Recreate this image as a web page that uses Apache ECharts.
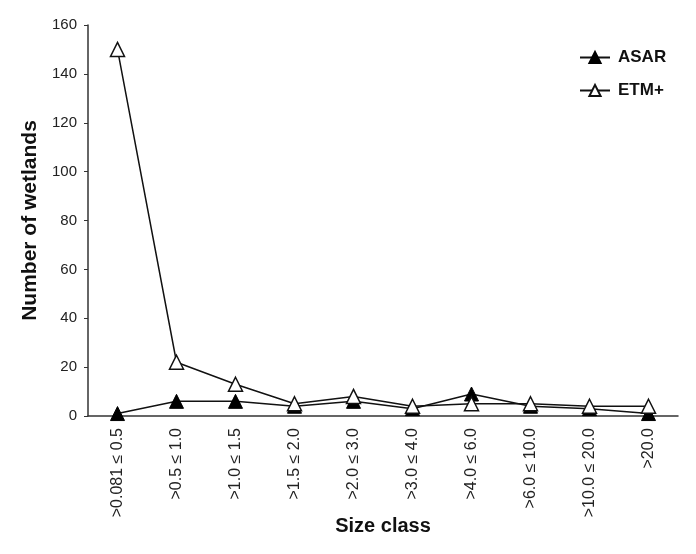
<!DOCTYPE html>
<html><head><meta charset="utf-8">
<script src="https://cdn.jsdelivr.net/npm/echarts@6/dist/echarts.min.js"></script>
<style>html,body{margin:0;padding:0;background:#fff}#c{width:696px;height:554px}</style>
</head><body><div id="c"></div>
<script>
const categories = [">0.081 ≤ 0.5", ">0.5 ≤ 1.0", ">1.0 ≤ 1.5", ">1.5 ≤ 2.0", ">2.0 ≤ 3.0", ">3.0 ≤ 4.0", ">4.0 ≤ 6.0", ">6.0 ≤ 10.0", ">10.0 ≤ 20.0", ">20.0"];
const asar = [1, 6, 6, 4, 6, 3, 9, 4, 3, 1];
const etm = [150, 22, 13, 5, 8, 4, 5, 5, 4, 4];
const yTicks = [0, 20, 40, 60, 80, 100, 120, 140, 160];

const chart = echarts.init(document.getElementById('c'));
const font = 'Liberation Sans, Arial, sans-serif';
chart.setOption({
  animation: false,
  backgroundColor: '#fff',
  grid: { left: 88, right: 18, top: 25, bottom: 138 },
  legend: {
    orient: 'vertical', left: 574, top: 44, itemGap: 16, itemWidth: 30, itemHeight: 14,
    textStyle: { fontFamily: font, fontWeight: 'bold', fontSize: 17, color: '#111', padding: [0, 0, 0, 3] },
    data: ['ASAR', 'ETM+']
  },
  xAxis: {
    type: 'category', data: categories, boundaryGap: true,
    name: 'Size class', nameLocation: 'middle', nameGap: 110, nameMoveOverlap: false,
    nameTextStyle: { fontFamily: font, fontWeight: 'bold', fontSize: 20, color: '#111', verticalAlign: 'middle' },
    axisLine: { lineStyle: { color: '#333', width: 1.5 } },
    axisTick: { alignWithLabel: true, length: 5, lineStyle: { color: '#333' } },
    axisLabel: { rotate: 90, fontFamily: font, fontSize: 16, color: '#222', margin: 12, interval: 0 }
  },
  yAxis: {
    type: 'value', min: yTicks[0], max: yTicks[yTicks.length - 1], interval: 20,
    name: 'Number of wetlands', nameLocation: 'middle', nameGap: 58, nameRotate: 90, nameMoveOverlap: false,
    nameTextStyle: { fontFamily: font, fontWeight: 'bold', fontSize: 21, color: '#111', verticalAlign: 'middle' },
    axisLine: { show: true, lineStyle: { color: '#333', width: 1.5 } },
    axisTick: { show: true, length: 4, lineStyle: { color: '#333' } },
    axisLabel: { fontFamily: font, fontSize: 15, color: '#222', margin: 11 },
    splitLine: { show: false }
  },
  series: [
    {
      name: 'ETM+', type: 'line', data: etm, symbol: 'triangle', symbolSize: 14,
      lineStyle: { color: '#111', width: 1.5 },
      itemStyle: { color: '#fff', borderColor: '#111', borderWidth: 1.5 }, z: 2
    },
    {
      name: 'ASAR', type: 'line', data: asar, symbol: 'triangle', symbolSize: 14,
      lineStyle: { color: '#111', width: 1.5 },
      itemStyle: { color: '#000', borderColor: '#000', borderWidth: 1 }, z: 1
    }
  ]
});
</script></body></html>
